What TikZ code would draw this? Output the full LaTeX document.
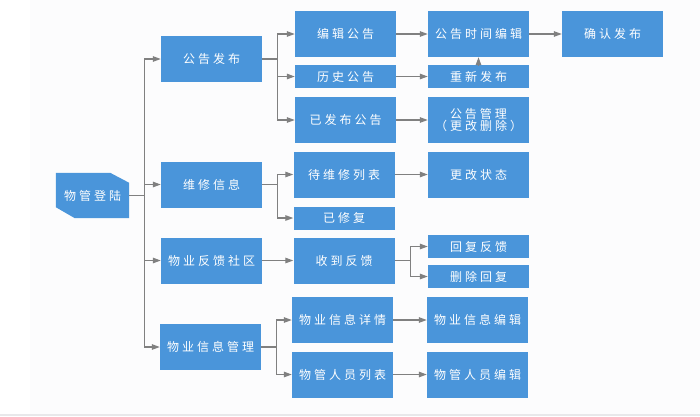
\documentclass[tikz,border=0pt]{standalone}
\usepackage{fontspec}
\newfontfamily\cjk[LetterSpace=25]{Noto Sans CJK SC}
\usepackage{tikz}
\usetikzlibrary{arrows.meta, backgrounds}
\usepackage{xcolor}
\definecolor{boxblue}{RGB}{74, 149, 218}
\definecolor{linegray}{RGB}{128, 128, 128}
\definecolor{pagegray}{RGB}{252, 252, 253}
\definecolor{stripgray}{RGB}{232, 232, 234}

\begin{document}
\begin{tikzpicture}[x=1pt, y=-1pt,
    box/.style={fill=boxblue, text=white, inner sep=0pt, minimum width=101pt,
      minimum height=46pt, align=center,
      font=\cjk\fontsize{12}{12.5}\selectfont},
    thinbox/.style={box, minimum height=23pt},
    arr/.style={-{Triangle[length=8pt, width=5.5pt]}, linegray, line width=1.2pt}]
  \useasboundingbox (0,0) rectangle (700,416);
  % login node
  \node[box, fill=none, minimum width=73pt, minimum height=45pt] (login) at (92.5,195.5) {物管登陆};
  % first column
  \node[box] (gg)   at (211.5,59)    {公告发布};
  \node[box] (wx)   at (211.5,184.5) {维修信息};
  \node[box] (fk)   at (211.5,260.5) {物业反馈社区};
  \node[box] (xxgl) at (210.5,347)   {物业信息管理};
  % second column
  \node[box]     (bj)  at (345.5,34)    {编辑公告};
  \node[thinbox] (ls)  at (345.5,76.5)  {历史公告};
  \node[box]     (yfb) at (345.5,120)   {已发布公告};
  \node[box]     (dwx) at (344,174.5)   {待维修列表};
  \node[thinbox] (yxf) at (344,218)     {已修复};
  \node[box]     (sd)  at (344,260.5)   {收到反馈};
  \node[box]     (xq)  at (342.5,320)   {物业信息详情};
  \node[box]     (lb)  at (342.5,374.5) {物管人员列表};
  % third column
  \node[box]     (sj)   at (478.5,34)    {公告时间编辑};
  \node[thinbox] (cx)   at (478.5,76.5)  {重新发布};
  \node[box]     (glgl) at (478.5,120)   {公告管理\\（更改删除）};
  \node[box]     (gz)   at (478.5,174.5) {更改状态};
  \node[thinbox] (hf)   at (478.5,246.5) {回复反馈};
  \node[thinbox] (sc)   at (478.5,276.5) {删除回复};
  \node[box]     (xxbj) at (477.5,320)   {物业信息编辑};
  \node[box]     (rybj) at (477.5,374.5) {物管人员编辑};
  % fourth column
  \node[box] (qr) at (612.5,34) {确认发布};
  % page and login shape
  \begin{scope}[on background layer]
    \fill[white] (0,0) rectangle (700,416);
    \fill[pagegray] (30,0) rectangle (700,414);
    \fill[stripgray] (0,414) rectangle (700,416);
    \fill[boxblue] (login.north west) -- ([xshift=-19pt]login.north east)
      -- ([yshift=-10pt]login.north east) -- (login.south east)
      -- ([xshift=19pt]login.south west) -- ([yshift=11pt]login.south west) -- cycle;
  \end{scope}
  % branching connectors
  \foreach \c in {gg,wx,fk,xxgl}
    \draw[arr] (login.east) -- ++(15,0) |- (\c.west);
  \foreach \c in {bj,ls,yfb}
    \draw[arr] (gg.east) -- ++(15,0) |- (\c.west);
  \foreach \c in {dwx,yxf}
    \draw[arr] (wx.east) -- ++(15,0) |- (\c.west);
  \foreach \c in {hf,sc}
    \draw[arr] (sd.east) -- ++(16,0) |- (\c.west);
  \foreach \c in {xq,lb}
    \draw[arr] (xxgl.east) -- ++(15,0) |- (\c.west);
  % straight connectors
  \foreach \a/\b in {bj/sj, sj/qr, ls/cx, yfb/glgl, dwx/gz, fk/sd, xq/xxbj, lb/rybj}
    \draw[arr] (\a) -- (\b);
  \draw[arr] (cx) -- (sj);
\end{tikzpicture}
\end{document}
